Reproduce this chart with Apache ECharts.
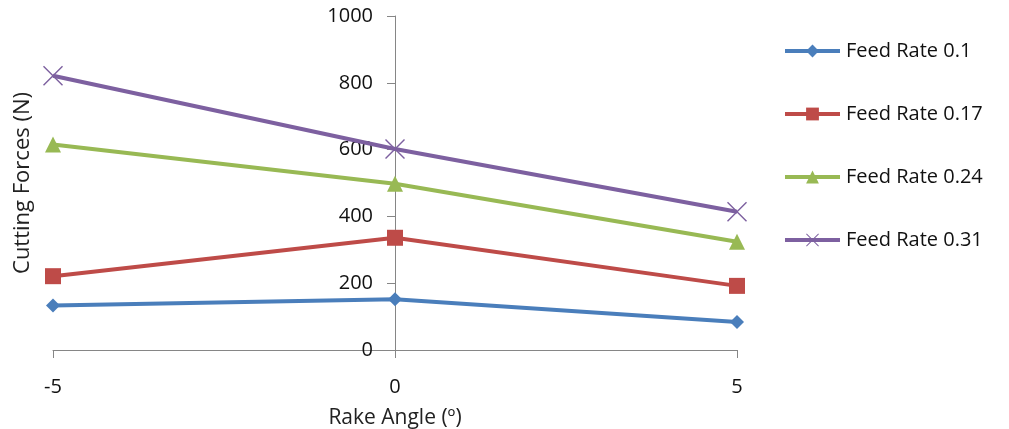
<!DOCTYPE html>
<html><head><meta charset="utf-8">
<script src="https://cdn.jsdelivr.net/npm/echarts@6/dist/echarts.min.js"></script>
<style>html,body{margin:0;padding:0;background:#fff}#c{width:1009px;height:429px}</style>
</head><body><div id="c"></div>
<script>
const rakeAngles = [-5, 0, 5];
const seriesNames = ['Feed Rate 0.1', 'Feed Rate 0.17', 'Feed Rate 0.24', 'Feed Rate 0.31'];
const feed01 = [133, 152, 84];
const feed017 = [221, 336, 192];
const feed024 = [615, 498, 324];
const feed031 = [821, 602, 414];
const yTicks = [0, 200, 400, 600, 800, 1000];

const colors = ['#4a7ebb', '#be4b48', '#98b954', '#7d60a0'];
const symbols = ['diamond', 'rect', 'triangle',
  'path://M0,1L1,0L10,9L19,0L20,1L11,10L20,19L19,20L10,11L1,20L0,19L9,10Z'];
const sizes = [14, 16, 16, 20];
const values = [feed01, feed017, feed024, feed031];
const font = 'Open Sans';

const chart = echarts.init(document.getElementById('c'));
chart.setOption({
  animation: false,
  grid: {left: 53, right: 272, top: 16, bottom: 79, containLabel: false, outerBoundsMode: 'none'},
  legend: {
    orient: 'vertical', left: 778, top: 35, itemWidth: 55, itemHeight: 16, itemGap: 41,
    textStyle: {fontFamily: font, fontSize: 20, lineHeight: 22, color: '#111', padding: [0, 0, 0, 1]},
    data: seriesNames.map((n, i) => ({name: n, lineStyle: {width: 4, color: colors[i]}}))
  },
  xAxis: {
    type: 'value', min: rakeAngles[0], max: rakeAngles[rakeAngles.length-1], interval: 5,
    name: 'Rake Angle (º)', nameLocation: 'middle', nameGap: 58,
    nameTextStyle: {fontFamily: font, fontSize: 21, color: '#222'},
    axisLine: {lineStyle: {color: '#868686', width: 1}},
    axisTick: {show: true, length: 8, lineStyle: {color: '#868686'}},
    axisLabel: {fontFamily: font, fontSize: 20, color: '#111', margin: 27},
    splitLine: {show: false}
  },
  yAxis: {
    type: 'value', min: yTicks[0], max: yTicks[yTicks.length-1], interval: 200,
    offset: -342,
    name: 'Cutting Forces (N)', nameLocation: 'middle', nameGap: 361,
    nameTextStyle: {fontFamily: font, fontSize: 22, color: '#222'},
    axisLine: {show: true, onZero: false, lineStyle: {color: '#868686', width: 1}},
    axisTick: {show: true, length: 8, lineStyle: {color: '#868686'}},
    axisLabel: {fontFamily: font, fontSize: 20, color: '#111', margin: 22, formatter: v => String(v)},
    splitLine: {show: false}
  },
  series: seriesNames.map((n, i) => ({
    name: n, type: 'line',
    data: rakeAngles.map((x, j) => [x, values[i][j]]),
    symbol: symbols[i], symbolSize: sizes[i], showAllSymbol: true,
    lineStyle: {color: colors[i], width: 4},
    itemStyle: {color: colors[i]},
    z: 2 + i
  }))
});
</script></body></html>
